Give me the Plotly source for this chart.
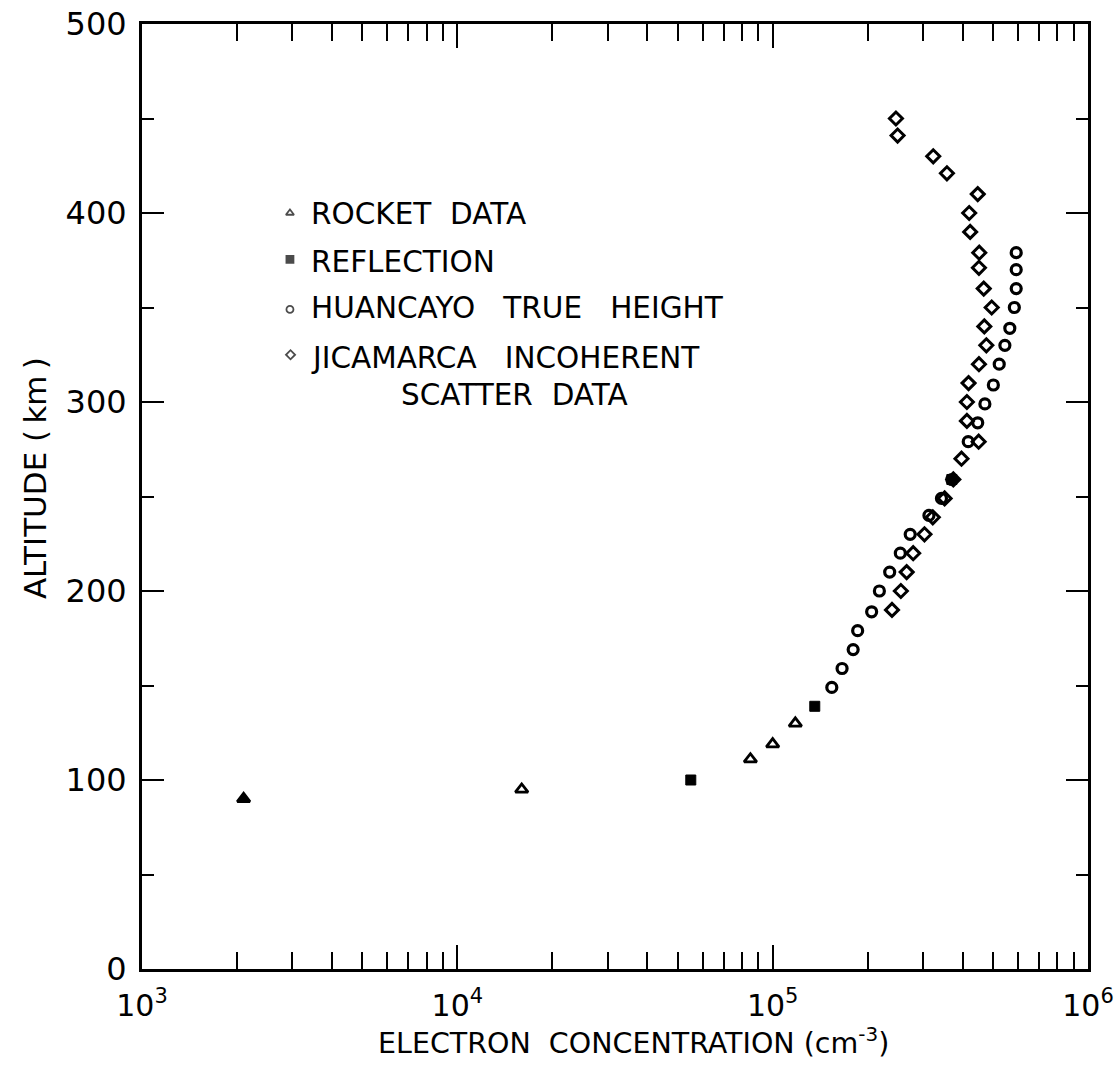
import plotly.graph_objects as go

# Electron concentration (cm^-3) vs altitude (km)
rocket_n = [2.1e3, 1.6e4, 8.5e4, 1.0e5, 1.18e5]
rocket_h = [90, 95, 111, 119, 130]
rocket_symbols = ["triangle-up", "triangle-up-open", "triangle-up-open",
                  "triangle-up-open", "triangle-up-open"]

reflection_n = [5.5e4, 1.36e5, 3.7e5]
reflection_h = [100, 139, 259]

huancayo_n = [1.54e5, 1.66e5, 1.80e5, 1.86e5, 2.06e5, 2.18e5, 2.35e5, 2.54e5,
              2.73e5, 3.13e5, 3.43e5, 3.70e5, 4.17e5, 4.47e5, 4.71e5, 5.01e5,
              5.23e5, 5.45e5, 5.65e5, 5.84e5, 5.92e5, 5.92e5, 5.92e5]
huancayo_h = [149, 159, 169, 179, 189, 200, 210, 220, 230, 240, 249, 259,
              279, 289, 299, 309, 320, 330, 339, 350, 360, 370, 379]

jicamarca_n = [2.39e5, 2.55e5, 2.66e5, 2.79e5, 3.03e5, 3.22e5, 3.51e5, 3.74e5,
               3.97e5, 4.50e5, 4.13e5, 4.13e5, 4.18e5, 4.51e5, 4.76e5, 4.69e5,
               4.95e5, 4.67e5, 4.51e5, 4.52e5, 4.23e5, 4.20e5, 4.47e5, 3.57e5,
               3.23e5, 2.49e5, 2.46e5]
jicamarca_h = [190, 200, 210, 220, 230, 239, 249, 259, 270, 279, 290, 300,
               310, 320, 330, 340, 350, 360, 371, 379, 390, 400, 410, 421,
               430, 441, 450]

legend_labels = ["ROCKET\u00a0\u00a0DATA", "REFLECTION",
                 "HUANCAYO\u00a0\u00a0\u00a0TRUE\u00a0\u00a0\u00a0HEIGHT",
                 "JICAMARCA\u00a0\u00a0\u00a0INCOHERENT"]
legend_extra = "SCATTER\u00a0\u00a0DATA"

x_tickvals = [1e3, 1e4, 1e5, 1e6]
x_ticktext = ["10<sup>3</sup>", "10<sup>4</sup>", "10<sup>5</sup>", "10<sup>6</sup>"]
x_minor = [m * 10 ** e for e in (3, 4, 5) for m in range(2, 10)]

FONT = "DejaVu Sans"
INK = "black"

fig = go.Figure()

fig.add_trace(go.Scatter(
    x=rocket_n, y=rocket_h, mode="markers",
    marker=dict(symbol=rocket_symbols, size=11, color=INK,
                line=dict(color=INK, width=2.8)),
))
fig.add_trace(go.Scatter(
    x=reflection_n, y=reflection_h, mode="markers",
    marker=dict(symbol="square", size=10, color=INK,
                line=dict(color=INK, width=1)),
))
fig.add_trace(go.Scatter(
    x=huancayo_n, y=huancayo_h, mode="markers",
    marker=dict(symbol="circle-open", size=10, color=INK,
                line=dict(color=INK, width=3.2)),
))
fig.add_trace(go.Scatter(
    x=jicamarca_n, y=jicamarca_h, mode="markers",
    marker=dict(symbol="diamond-open", size=10, color=INK,
                line=dict(color=INK, width=3)),
))

# small key symbols drawn on a hidden unit overlay
key_symbols = ["triangle-up-open", "square", "circle-open", "diamond-open"]
key_x = [0.1564, 0.1564, 0.1564, 0.1570]
key_y = [0.800, 0.751, 0.698, 0.650]
fig.add_trace(go.Scatter(
    x=key_x, y=key_y, mode="markers", xaxis="x2", yaxis="y2",
    marker=dict(symbol=key_symbols, size=[7, 7, 7, 7], color=INK,
                line=dict(color=INK, width=1.8)),
))

label_y = [0.799, 0.748, 0.6995, 0.6466]
for txt, yy in zip(legend_labels, label_y):
    fig.add_annotation(x=0.1765, y=yy, xref="paper", yref="paper",
                       xanchor="left", yanchor="middle", showarrow=False,
                       text=txt, font=dict(family=FONT, size=29.5, color=INK))
fig.add_annotation(x=0.394, y=0.6074, xref="paper", yref="paper",
                   xanchor="center", yanchor="middle", showarrow=False,
                   text=legend_extra, font=dict(family=FONT, size=29.5, color=INK))

# axis titles
fig.add_annotation(x=(633 - 142) / 946, y=-0.076, xref="paper", yref="paper",
                   xanchor="center", yanchor="middle", showarrow=False,
                   text="ELECTRON\u00a0\u00a0CONCENTRATION\u00a0(cm<sup>-3</sup>)",
                   font=dict(family=FONT, size=28.5, color=INK))
fig.add_annotation(x=-0.113, y=(969 - 478) / 945, xref="paper", yref="paper",
                   xanchor="center", yanchor="middle", showarrow=False,
                   textangle=-90, text="ALTITUDE\u00a0(\u2009km\u2009)",
                   font=dict(family=FONT, size=31, color=INK))

axis_common = dict(showline=True, linecolor=INK, linewidth=3, mirror="allticks",
                   ticks="inside", tickcolor=INK, tickwidth=2,
                   showgrid=False, zeroline=False)

fig.update_layout(
    width=1114, height=1068,
    margin=dict(l=142, r=26, t=24, b=99, autoexpand=False),
    paper_bgcolor="white", plot_bgcolor="white",
    showlegend=False,
    font=dict(family=FONT, color=INK),
    xaxis=dict(type="log", range=[3, 6], tickvals=x_tickvals, ticktext=x_ticktext,
               ticklen=24, tickfont=dict(family=FONT, size=30, color=INK),
               ticklabelstandoff=8,
               minor=dict(tickmode="array", tickvals=x_minor, ticks="inside",
                          ticklen=17, tickwidth=2, tickcolor=INK),
               **axis_common),
    yaxis=dict(range=[0, 500], tickmode="linear", tick0=0, dtick=100,
               ticklen=22, tickfont=dict(family=FONT, size=32, color=INK),
               ticklabelstandoff=6,
               minor=dict(tickmode="linear", tick0=0, dtick=50, ticks="inside",
                          ticklen=12, tickwidth=2, tickcolor=INK),
               **axis_common),
    xaxis2=dict(range=[0, 1], overlaying="x", visible=False),
    yaxis2=dict(range=[0, 1], overlaying="y", visible=False),
)

fig.write_html("out.html")
